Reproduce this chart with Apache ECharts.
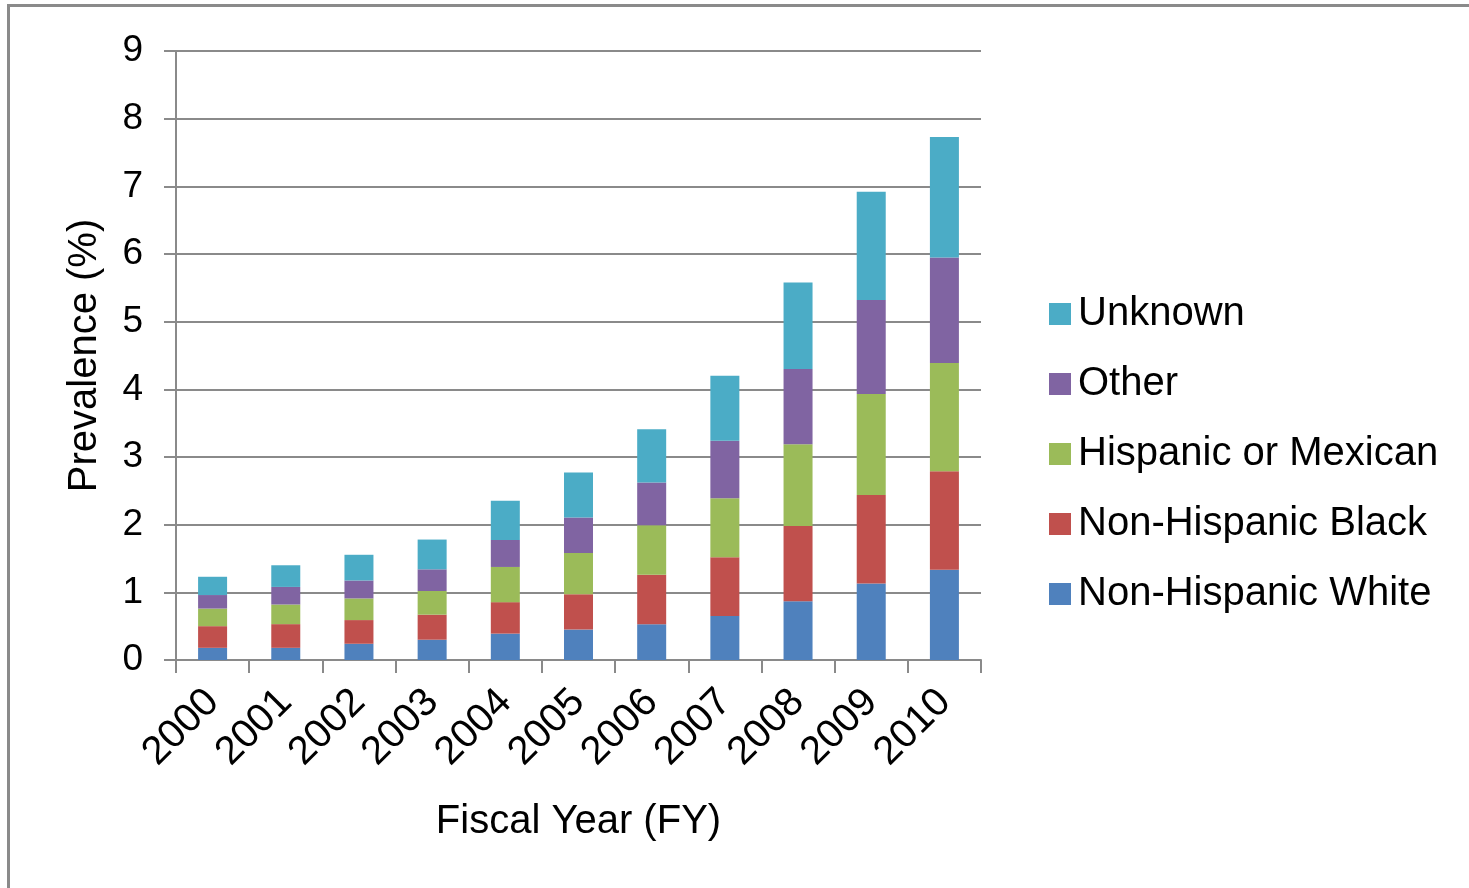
<!DOCTYPE html>
<html>
<head>
<meta charset="utf-8">
<script src="https://cdn.jsdelivr.net/npm/echarts@6/dist/echarts.min.js"></script>
<style>
html,body{margin:0;padding:0;background:#fff;}
#wrap{position:relative;width:1469px;height:888px;overflow:hidden;}
#chart{position:absolute;left:0;top:0;width:1469px;height:888px;}
#frame{position:absolute;left:7px;top:4px;width:1500px;height:900px;border-left:3px solid #8a8a8a;border-top:3px solid #8a8a8a;pointer-events:none;}
</style>
</head>
<body>
<div id="wrap"><div id="chart"></div><div id="frame"></div></div>
<script>
const years = ['2000','2001','2002','2003','2004','2005','2006','2007','2008','2009','2010'];
const yTicks = [0,1,2,3,4,5,6,7,8,9];
const nhWhite  = [0.18,0.18,0.24,0.30,0.39,0.45,0.53,0.65,0.87,1.13,1.335];
const nhBlack  = [0.32,0.35,0.35,0.37,0.465,0.52,0.73,0.87,1.11,1.31,1.455];
const hispanic = [0.26,0.29,0.32,0.35,0.52,0.61,0.73,0.87,1.21,1.49,1.60];
const other    = [0.20,0.26,0.265,0.32,0.40,0.525,0.635,0.85,1.11,1.39,1.56];
const unknown  = [0.27,0.32,0.38,0.44,0.58,0.665,0.785,0.96,1.28,1.60,1.78];
const seriesNames = ['Non-Hispanic White','Non-Hispanic Black','Hispanic or Mexican','Other','Unknown'];
const seriesData = [nhWhite, nhBlack, hispanic, other, unknown];
const colors = ['#4F81BD','#C0504D','#9BBB59','#8064A2','#4BACC6'];

const font = 'Liberation Sans, Arial, sans-serif';
const chart = echarts.init(document.getElementById('chart'), null, {renderer:'canvas'});
chart.setOption({
  animation: false,
  backgroundColor: '#fff',
  color: colors,
  grid: {left:176, right:488, top:51, bottom:228, containLabel:false},
  legend: {
    orient:'vertical', left:1044, top:289,
    data: seriesNames.slice().reverse(),
    icon:'rect', itemWidth:22, itemHeight:22, itemGap:30,
    itemStyle:{borderWidth:0},
    textStyle:{fontFamily:font, fontSize:40, color:'#000', padding:[0,0,0,2]}
  },
  xAxis: {
    type:'category', data: years,
    name:'Fiscal Year (FY)', nameLocation:'middle', nameGap:142,
    nameTextStyle:{fontFamily:font, fontSize:40, color:'#000'},
    axisLine:{lineStyle:{color:'#8a8a8a', width:2}},
    axisTick:{show:true, interval:0, alignWithLabel:false, length:13, lineStyle:{color:'#8a8a8a', width:2}},
    axisLabel:{rotate:45, interval:0, hideOverlap:false, margin:36, fontFamily:font, fontSize:40, color:'#000'}
  },
  yAxis: {
    type:'value', min:yTicks[0], max:yTicks[yTicks.length-1], interval:1,
    name:'Prevalence (%)', nameLocation:'middle', nameGap:71,
    nameTextStyle:{fontFamily:font, fontSize:40, color:'#000'},
    axisLine:{show:true, lineStyle:{color:'#8a8a8a', width:2}},
    axisTick:{show:true, length:12, lineStyle:{color:'#8a8a8a', width:2}},
    splitLine:{show:true, lineStyle:{color:'#8a8a8a', width:2}},
    axisLabel:{margin:33, fontFamily:font, fontSize:37, color:'#000'}
  },
  series: seriesNames.map((n,i)=>({
    name:n, type:'bar', stack:'total', barWidth:29,
    data: seriesData[i],
    itemStyle:{color:colors[i]}
  }))
});
</script>
</body>
</html>
